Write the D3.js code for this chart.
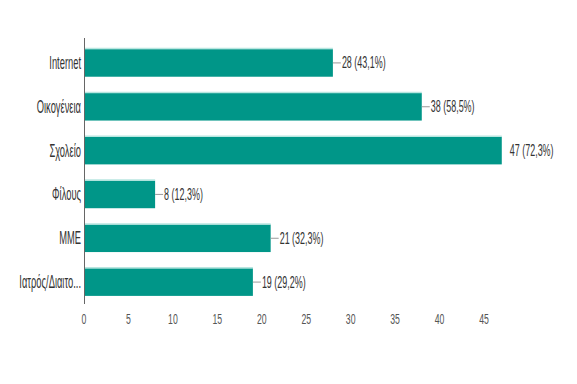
<!DOCTYPE html>
<html><head><meta charset="utf-8">
<script src="https://cdn.jsdelivr.net/npm/d3@7/dist/d3.min.js"></script>
<style>body{margin:0;background:#fff}svg{display:block}</style>
</head><body>
<script>
const categories = ["Internet","Οικογένεια","Σχολείο","Φίλους","ΜΜΕ","Ιατρός/Διαιτο..."];
const values = [28,38,47,8,21,19];
const percents = ["43,1%","58,5%","72,3%","12,3%","32,3%","29,2%"];
const ticks = [0,5,10,15,20,25,30,35,40,45];

const W=577,H=384;
const svg=d3.select("body").append("svg").attr("width",W).attr("height",H);
const x=d3.scaleLinear().domain([0,45]).range([84,484]);
const y=d3.scaleBand().domain(categories).range([41,304]).paddingInner(0.37).paddingOuter(0.185);
const font="Liberation Sans, Arial, sans-serif";

// bars
svg.selectAll("rect.bar").data(categories).join("rect").attr("class","bar")
 .attr("x",x(0)).attr("y",d=>y(d)).attr("height",y.bandwidth())
 .attr("width",(d,i)=>x(values[i])-x(0)).attr("fill","#009688");
svg.selectAll("line.top").data(categories).join("line").attr("class","top")
 .attr("x1",x(0)).attr("x2",(d,i)=>x(values[i])).attr("y1",d=>y(d)-0.5).attr("y2",d=>y(d)-0.5)
 .attr("stroke","#b8e6e0").attr("stroke-width",1.5);

// axis line
svg.append("line").attr("x1",x(0)+0.5).attr("x2",x(0)+0.5).attr("y1",38).attr("y2",304)
 .attr("stroke","#666").attr("stroke-width",1);

// category labels
svg.selectAll("text.cat").data(categories).join("text").attr("class","cat")
 .attr("transform",d=>`translate(${x(0)-3},${y(d)+y.bandwidth()/2+6}) scale(0.52,1)`)
 .attr("text-anchor","end").attr("font-family",font).attr("font-size",18).attr("fill","#333")
 .text(d=>d);

// leader lines
const maxV=d3.max(values);
svg.selectAll("line.lead").data(categories.filter((d,i)=>values[i]!==maxV)).join("line").attr("class","lead")
 .attr("x1",d=>x(values[categories.indexOf(d)])).attr("x2",d=>x(values[categories.indexOf(d)])+8)
 .attr("y1",d=>y(d)+y.bandwidth()/2).attr("y2",d=>y(d)+y.bandwidth()/2)
 .attr("stroke","#999").attr("stroke-width",1);

// value labels
svg.selectAll("text.val").data(categories).join("text").attr("class","val")
 .attr("transform",(d,i)=>`translate(${x(values[i])+(values[i]===maxV?8:9)},${y(d)+y.bandwidth()/2+5.5}) scale(0.56,1)`)
 .attr("font-family",font).attr("font-size",16).attr("fill","#333")
 .text((d,i)=>`${values[i]} (${percents[i]})`);

// tick labels
svg.selectAll("text.tick").data(ticks).join("text").attr("class","tick")
 .attr("transform",d=>`translate(${x(d)},${324}) scale(0.58,1)`)
 .attr("text-anchor","middle").attr("font-family",font).attr("font-size",15).attr("fill","#555")
 .text(d=>d);
</script>
</body></html>
